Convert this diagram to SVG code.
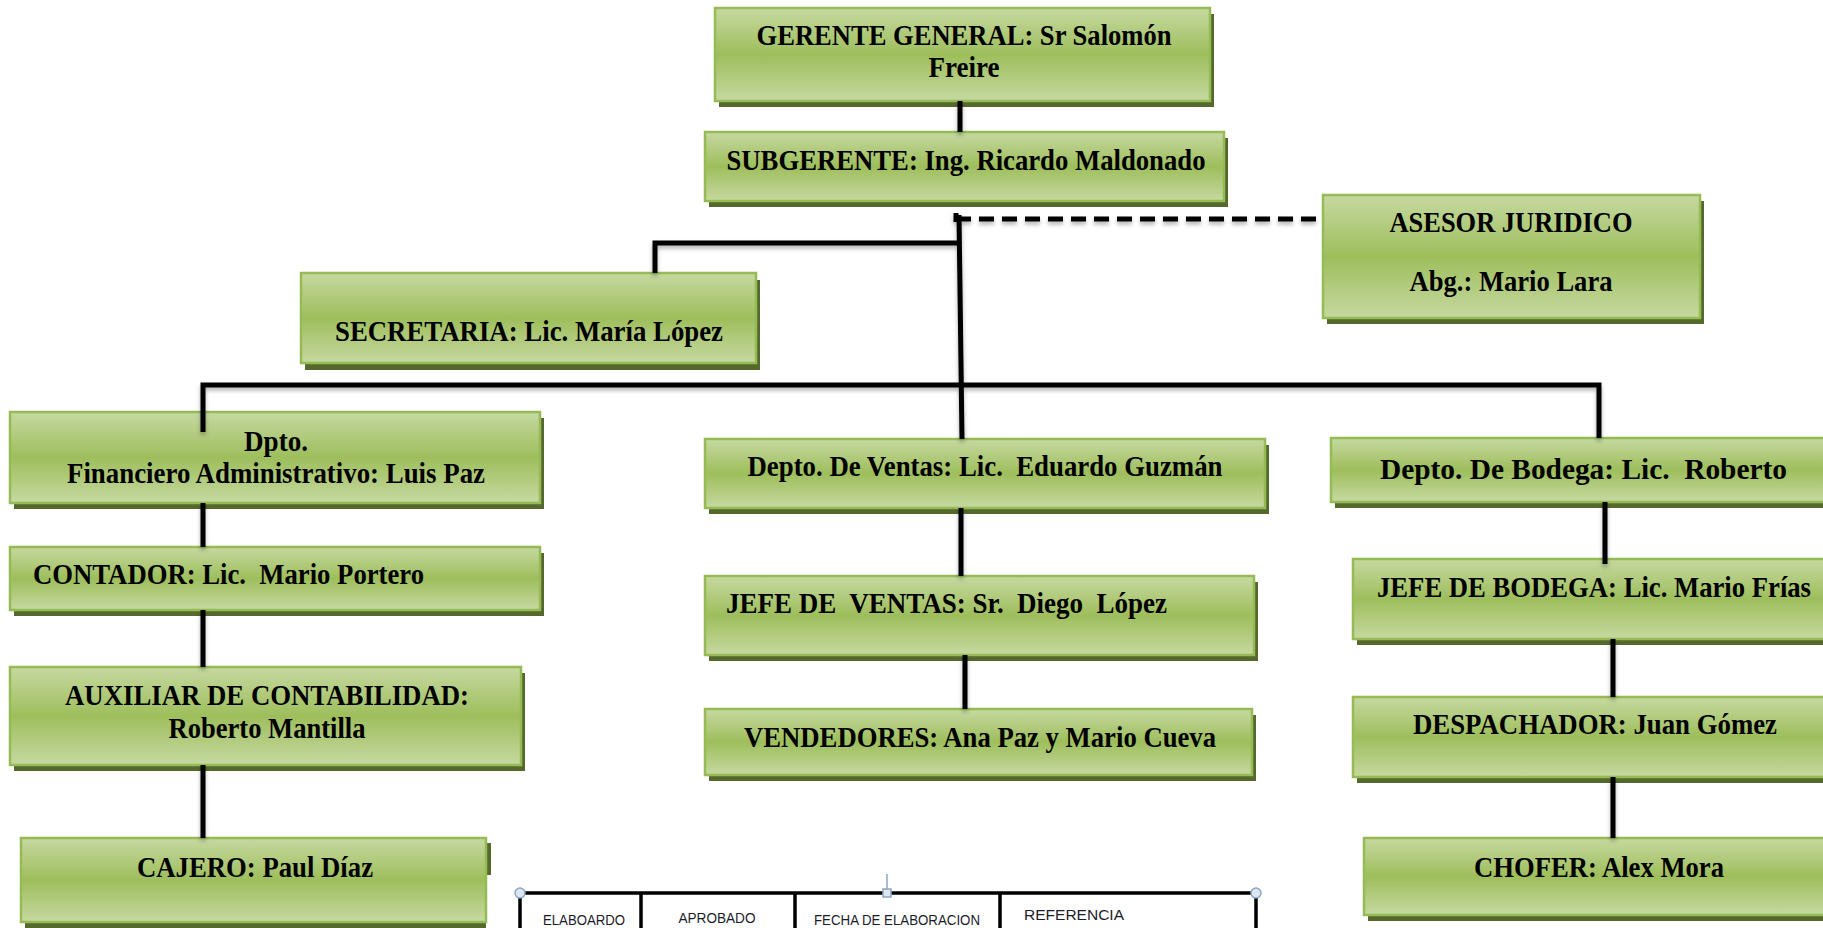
<svg xmlns="http://www.w3.org/2000/svg" width="1823" height="928" viewBox="0 0 1823 928">
  <defs>
    <linearGradient id="boxFill" x1="0" y1="0" x2="0" y2="1">
      <stop offset="0" stop-color="#c6d9a1"/>
      <stop offset="0.5" stop-color="#9ebe5c"/>
      <stop offset="1" stop-color="#c6d9a1"/>
    </linearGradient>
    <filter id="lineShadow" x="-10%" y="-10%" width="120%" height="130%">
      <feDropShadow dx="0" dy="3" stdDeviation="2" flood-color="#000" flood-opacity="0.3"/>
    </filter>
    <style>
      .box { fill: url(#boxFill); stroke: #96ba54; stroke-width: 2.5; }
      .sh { fill: #55692c; }
      .t { font-family: "Liberation Serif", "Times New Roman", serif; font-weight: bold; font-size: 29px; fill: #000; white-space: pre; }
      .c { text-anchor: middle; }
      .ln { fill: none; stroke: #000; stroke-width: 5; }
      .dash { stroke-dasharray: 15 8; }
      .tbl { fill: none; stroke: #000; stroke-width: 3.5; }
      .tt { font-family: "Liberation Sans", Arial, sans-serif; font-size: 14px; fill: #1b1b2b; }
      .hdl { fill: #dde7f2; stroke: #8ea6c2; stroke-width: 1.5; }
    </style>
  </defs>

  <rect width="1823" height="928" fill="#fff"/>

  <!-- Nodes -->
  <g id="gerente-general">
    <rect class="sh" x="719" y="14" width="495" height="93"/>
    <rect class="box" x="715" y="8" width="495" height="93"/>
    <text class="t c" x="964" y="45" textLength="415" lengthAdjust="spacingAndGlyphs">GERENTE GENERAL: Sr Salomón</text>
    <text class="t c" x="964" y="77" textLength="71" lengthAdjust="spacingAndGlyphs">Freire</text>
  </g>

  <g id="subgerente">
    <rect class="sh" x="709" y="138" width="519" height="69"/>
    <rect class="box" x="705" y="132" width="519" height="69"/>
    <text class="t c" x="966" y="170" textLength="479" lengthAdjust="spacingAndGlyphs">SUBGERENTE: Ing. Ricardo Maldonado</text>
  </g>

  <g id="asesor-juridico">
    <rect class="sh" x="1327" y="201" width="377" height="123"/>
    <rect class="box" x="1323" y="195" width="377" height="123"/>
    <text class="t c" x="1511" y="232" textLength="243" lengthAdjust="spacingAndGlyphs">ASESOR JURIDICO</text>
    <text class="t c" x="1511" y="291" textLength="203" lengthAdjust="spacingAndGlyphs">Abg.: Mario Lara</text>
  </g>

  <g id="secretaria">
    <rect class="sh" x="305" y="280" width="455" height="90"/>
    <rect class="box" x="301" y="273" width="455" height="90"/>
    <text class="t c" x="529" y="341" textLength="388" lengthAdjust="spacingAndGlyphs">SECRETARIA: Lic. María López</text>
  </g>

  <g id="dpto-financiero">
    <rect class="sh" x="14" y="418" width="530" height="91"/>
    <rect class="box" x="10" y="412" width="530" height="91"/>
    <text class="t c" x="276" y="451" textLength="64" lengthAdjust="spacingAndGlyphs">Dpto.</text>
    <text class="t c" x="276" y="483" textLength="418" lengthAdjust="spacingAndGlyphs">Financiero Administrativo: Luis Paz</text>
  </g>

  <g id="contador">
    <rect class="sh" x="14" y="553" width="530" height="63"/>
    <rect class="box" x="10" y="547" width="530" height="63"/>
    <text class="t" x="33" y="584" textLength="391" lengthAdjust="spacingAndGlyphs">CONTADOR: Lic.  Mario Portero</text>
  </g>

  <g id="auxiliar-contabilidad">
    <rect class="sh" x="14" y="673" width="511" height="98"/>
    <rect class="box" x="10" y="667" width="511" height="98"/>
    <text class="t c" x="267" y="705" textLength="404" lengthAdjust="spacingAndGlyphs">AUXILIAR DE CONTABILIDAD:</text>
    <text class="t c" x="267" y="738" textLength="197" lengthAdjust="spacingAndGlyphs">Roberto Mantilla</text>
  </g>

  <g id="cajero">
    <path class="sh" d="M486 843 H491 V875 H486 Z M25 922 H486 V928 H25 Z"/>
    <rect class="box" x="21" y="838" width="465" height="84"/>
    <text class="t c" x="255" y="877" textLength="236" lengthAdjust="spacingAndGlyphs">CAJERO: Paul Díaz</text>
  </g>

  <g id="depto-ventas">
    <rect class="sh" x="709" y="445" width="560" height="69"/>
    <rect class="box" x="705" y="439" width="560" height="69"/>
    <text class="t c" x="985" y="476" textLength="475" lengthAdjust="spacingAndGlyphs">Depto. De Ventas: Lic.  Eduardo Guzmán</text>
  </g>

  <g id="jefe-ventas">
    <rect class="sh" x="709" y="582" width="549" height="79"/>
    <rect class="box" x="705" y="576" width="549" height="79"/>
    <text class="t" x="726" y="613" textLength="441" lengthAdjust="spacingAndGlyphs">JEFE DE  VENTAS: Sr.  Diego  López</text>
  </g>

  <g id="vendedores">
    <rect class="sh" x="709" y="715" width="547" height="66"/>
    <rect class="box" x="705" y="709" width="547" height="66"/>
    <text class="t c" x="980" y="747" textLength="472" lengthAdjust="spacingAndGlyphs">VENDEDORES: Ana Paz y Mario Cueva</text>
  </g>

  <g id="depto-bodega">
    <rect class="sh" x="1335" y="444" width="520" height="64"/>
    <rect class="box" x="1331" y="438" width="520" height="64"/>
    <text class="t" x="1380" y="479" textLength="407" lengthAdjust="spacingAndGlyphs">Depto. De Bodega: Lic.  Roberto</text>
  </g>

  <g id="jefe-bodega">
    <rect class="sh" x="1357" y="565" width="500" height="80"/>
    <rect class="box" x="1353" y="559" width="500" height="80"/>
    <text class="t" x="1377" y="597" textLength="434" lengthAdjust="spacingAndGlyphs">JEFE DE BODEGA: Lic. Mario Frías</text>
  </g>

  <g id="despachador">
    <rect class="sh" x="1357" y="703" width="500" height="80"/>
    <rect class="box" x="1353" y="697" width="500" height="80"/>
    <text class="t c" x="1595" y="734" textLength="364" lengthAdjust="spacingAndGlyphs">DESPACHADOR: Juan Gómez</text>
  </g>

  <g id="chofer">
    <rect class="sh" x="1368" y="844" width="490" height="77"/>
    <rect class="box" x="1364" y="838" width="490" height="77"/>
    <text class="t c" x="1599" y="877" textLength="250" lengthAdjust="spacingAndGlyphs">CHOFER: Alex Mora</text>
  </g>

  <!-- Connectors -->
  <g id="connectors" filter="url(#lineShadow)">
    <path class="ln" d="M960 101 V132"/>
    <path class="ln" d="M959 215 L962 439"/>
    <path class="ln" d="M956 213 V222"/>
    <path class="ln dash" d="M956 219 H1323"/>
    <path class="ln" d="M959 243 H655 V273"/>
    <path class="ln" d="M203 432 V385 H1599 V438"/>
    <path class="ln" d="M203 503 V547"/>
    <path class="ln" d="M203 610 V667"/>
    <path class="ln" d="M203 765 V838"/>
    <path class="ln" d="M961 508 V576"/>
    <path class="ln" d="M965 655 V709"/>
    <path class="ln" d="M1605 502 V564"/>
    <path class="ln" d="M1613 639 V697"/>
    <path class="ln" d="M1613 777 V838"/>
  </g>

  <!-- Sign-off table at the foot of the chart -->
  <g id="signoff-table">
    <path class="tbl" d="M520 893 H1256 M520 893 V928 M641 893 V928 M795 893 V928 M1000 893 V928 M1256 893 V928"/>
    <line x1="887" y1="874" x2="887" y2="889" stroke="#8ea6c2" stroke-width="1.5"/>
    <circle class="hdl" cx="520" cy="893" r="5"/>
    <circle class="hdl" cx="1256" cy="893" r="5"/>
    <rect class="hdl" x="883" y="889" width="8" height="8"/>
    <text class="tt" x="584" y="925" text-anchor="middle" textLength="82" lengthAdjust="spacingAndGlyphs">ELABOARDO</text>
    <text class="tt" x="717" y="923" text-anchor="middle" textLength="77" lengthAdjust="spacingAndGlyphs">APROBADO</text>
    <text class="tt" x="897" y="925" text-anchor="middle" textLength="166" lengthAdjust="spacingAndGlyphs">FECHA DE ELABORACION</text>
    <text class="tt" x="1024" y="920" textLength="100" lengthAdjust="spacingAndGlyphs">REFERENCIA</text>
  </g>
</svg>
